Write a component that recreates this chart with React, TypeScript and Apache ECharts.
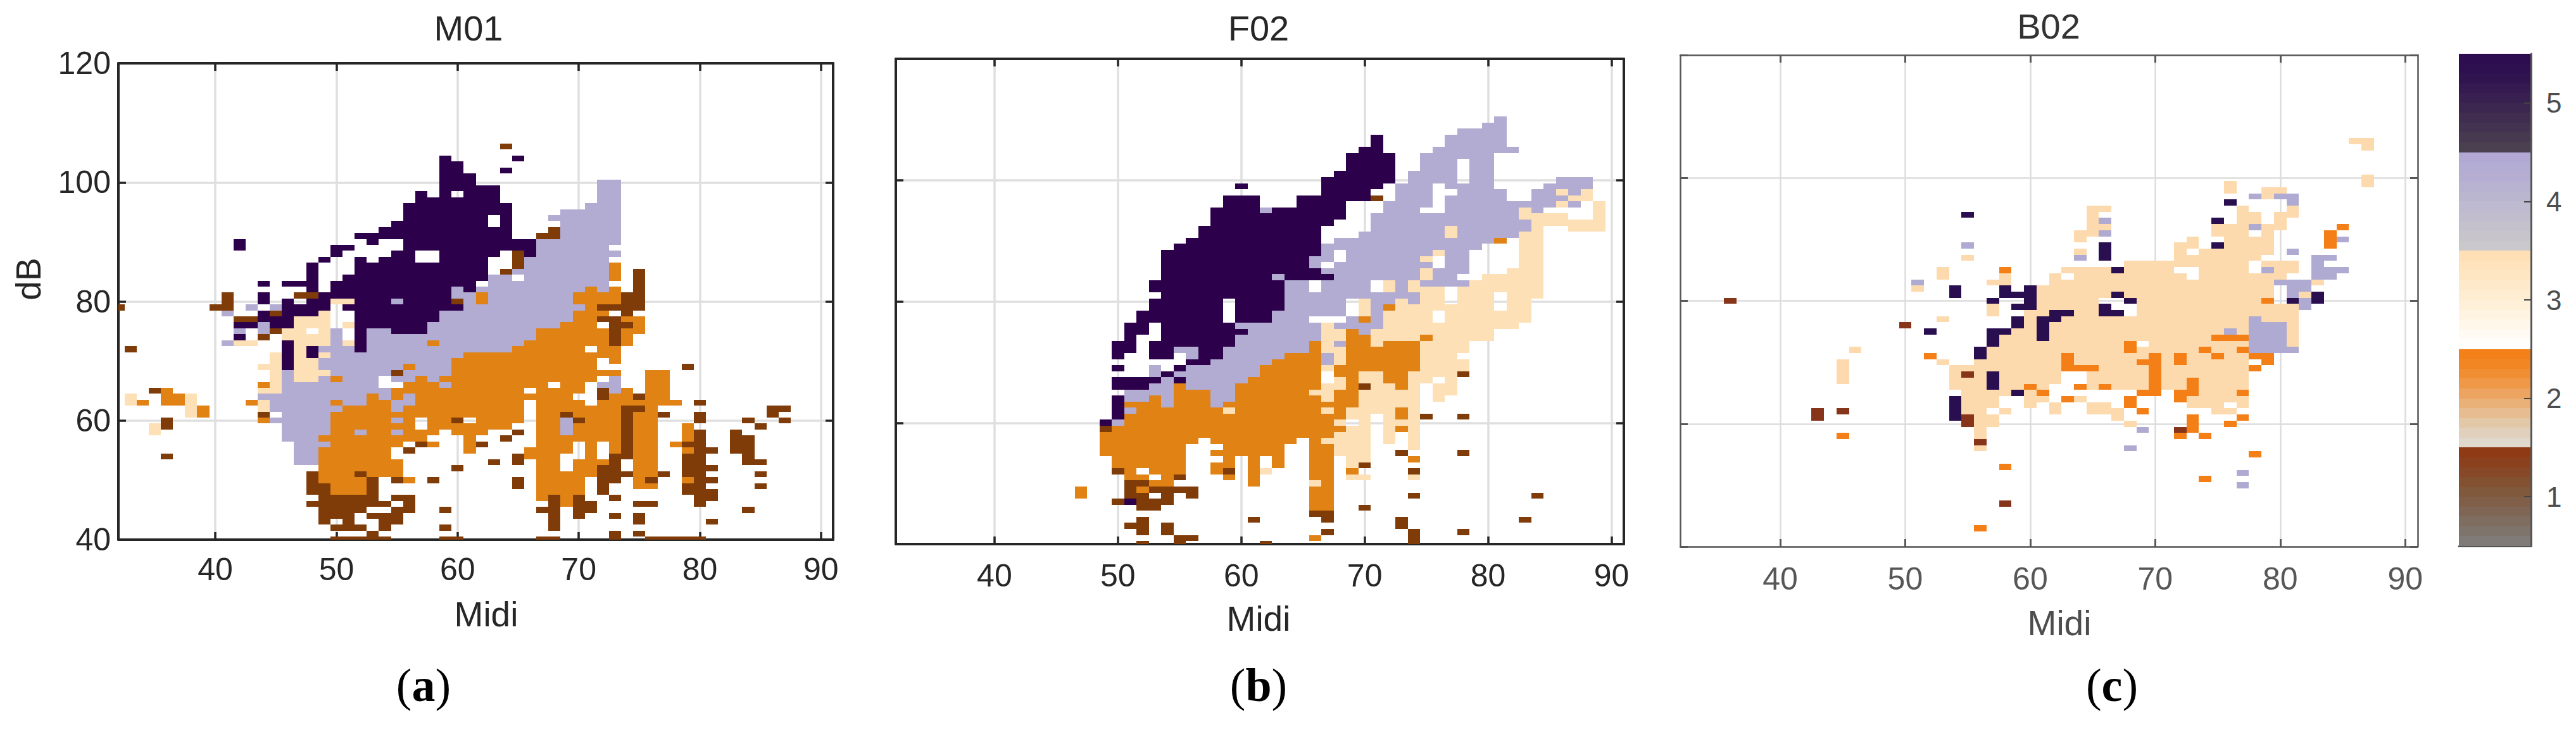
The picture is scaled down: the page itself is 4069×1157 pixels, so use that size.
import React, { useEffect, useRef } from "react";
import * as echarts from "echarts";

// Each row: "dB level:midiFrom-midiTo ..." (levels 1..5)
const m01Rows: string[] = [
  "106 1:64",
  "104 5:59 5:65",
  "103 5:59-60",
  "102 5:59-60 5:64",
  "101 5:59-61",
  "100 5:59-61 4:72-73",
  "99 5:59-63 4:72-73",
  "98 5:57 5:59 5:61-63 4:72-73",
  "97 5:57-63 4:72-73",
  "96 5:56-64 4:71-73",
  "95 5:56-64 4:69-73",
  "94 5:56-62 5:64 4:68-73",
  "93 5:55-62 5:64 4:69-73",
  "92 5:54-64 1:68 4:69-73",
  "91 5:52-64 1:67-68 4:69-73",
  "90 5:42 5:53 5:56-66 4:67-73",
  "89 5:42 5:50-51 5:56-66 4:67-72",
  "88 5:50 5:55-56 5:59-63 1:65 5:66 4:67-73",
  "87 5:49 5:52 5:54-56 5:59-62 1:65 4:66-72",
  "86 5:48 5:52-62 1:65 4:66-72 2:73",
  "85 5:48 5:52-62 1:64 4:65-72 2:73 1:75",
  "84 5:48 5:51-62 4:63-64 4:66-72 2:73 1:75",
  "83 5:44 5:46-48 5:50-61 4:63-72 1:75",
  "82 5:48 5:50-59 4:60 5:61 4:62-70 2:71 4:72 2:73 1:75",
  "81 1:41 5:44 1:47-48 5:49-59 4:60-61 2:62 4:63-69 2:70-73 1:74-75",
  "80 1:41 5:44 5:46 5:48-49 3:50-51 5:52-54 4:55 5:56-59 1:60 4:61 2:62 4:63-69 2:70-73 1:74-75",
  "79 1:32 1:40-41 4:43 4:45 5:46-49 5:51-60 4:61-70 2:71 1:72-75",
  "78 4:41 5:44 1:45 5:46-48 3:49 5:52-58 4:59-69 2:70-72 1:74",
  "77 1:42-43 5:44-46 3:47-49 5:52-58 4:59-69 2:70-71 1:72-73 2:74-75",
  "76 5:42-43 4:44 5:45-46 3:47-49 3:51 5:52-57 4:58-68 2:69-71 1:73-74 2:75",
  "75 4:42 4:44 1:45 3:46-47 3:49 4:50 5:52 4:53-54 5:55-57 4:58-66 2:67-72 1:73 2:74-75",
  "74 5:42 1:44 3:46-49 4:50 5:52 4:53-66 2:67-72 1:73 2:74",
  "73 4:41 3:42-43 5:46 3:47-49 4:50 3:51 5:52 4:53-57 2:58 4:59-65 2:66-72 1:73 2:74",
  "72 1:33 5:46 3:47 5:48 4:49-51 5:52 4:53-64 2:65-70 2:72-73",
  "71 3:45 5:46 3:47 5:48 3:49 4:50-60 2:61-73",
  "70 3:45 5:46 3:47-48 4:49-59 2:60-71 2:73",
  "69 3:44-45 5:46 3:47-48 4:49-55 2:56 4:57-59 2:60-71 1:79",
  "68 3:45 4:46 3:47-49 4:50-54 1:55 4:56-59 2:60-73 2:76-77",
  "67 3:45 4:46 3:47-48 4:49 2:50 4:51-53 4:55-56 2:57 4:58 2:59-71 4:73 2:76-77",
  "66 2:44 3:45 4:46-53 2:56-58 4:59 2:60-67 2:69-70 4:72-73 2:76-77",
  "65 1:35 2:36 3:44-45 4:46-54 2:55-65 2:67-70 1:72 4:73 2:74 2:76-77",
  "64 3:33 2:36-37 3:38 4:44-52 2:53 4:54 2:55 4:56 2:57-69 1:72 2:73-74 1:75 2:76-77",
  "63 3:33 2:34 2:36-37 3:38 2:43 3:44 4:45-49 2:50 4:51-52 2:53-54 4:55-56 2:57-65 2:67-70 2:72-78 1:80",
  "62 3:38 2:39 3:44 4:45-50 2:51-54 4:55 2:56-65 2:67-73 1:74-75 2:76 1:86-87",
  "61 3:38 2:39 1:44 4:46-49 2:50-65 2:67-68 1:69 2:70-73 1:74 2:75-76 1:77 1:80 1:86",
  "60 1:36 2:44 4:45-49 2:50-54 4:55 2:56 2:58-59 1:60 2:62-65 2:67-68 4:69 1:70 2:71-73 1:74 2:75-76 1:80 1:84 1:87",
  "59 3:35 1:36 4:46-49 2:50-56 2:58-64 2:67-68 4:69 2:70-73 1:74 2:75-76 2:79 1:85",
  "58 3:35 4:46-49 2:50-51 4:52 2:53-54 4:55 2:56-58 2:60-62 1:65 2:67-68 4:69 2:70-73 1:74 2:75-76 2:79 1:80 1:83",
  "57 4:46-48 2:49-57 2:61 1:64 2:67-73 1:74 2:75-76 2:79 1:80 1:83-84",
  "56 4:47-49 2:50-55 1:57 2:58 2:61 1:62 2:67-69 2:71 2:73 1:74 2:75-76 2:78 1:79-80 1:83-84",
  "55 4:47-48 2:49-54 1:56 2:61 2:66-69 2:71 2:73 1:74 2:75-76 2:79 1:80-81 1:83-84",
  "54 1:36 4:47-48 2:49-54 1:65 2:66-68 2:71 1:73-74 2:75-76 1:79-80 1:84",
  "53 4:47-48 2:49-55 1:63 1:65 2:67-68 2:70-72 1:73 2:75-76 1:79-80 1:84-85",
  "52 2:49-55 1:60 2:67-68 2:70-71 1:72-73 2:75-76 1:79-81",
  "51 1:48 2:49-51 1:52 2:53-55 2:67-71 1:72-74 2:75-76 1:77 1:79-80 1:85",
  "50 1:48 2:49-52 1:53 1:55 2:56 1:58 1:65 2:67-70 1:72-73 2:75 1:76 2:79 1:80-81",
  "49 1:48-49 2:50-52 1:53 1:65 2:67-70 1:72 2:75-76 1:79-80 1:85",
  "48 1:48-49 2:50-52 1:53 2:67-70 1:72 1:79-81",
  "47 1:49-53 1:55-56 2:67 1:68 2:69 1:70 1:73 1:80-81",
  "46 1:48-54 1:56 1:68 2:69 1:70-71 1:75-76 1:80",
  "45 1:49-52 1:55-56 1:59 1:67-68 1:70-71 1:84",
  "44 1:49-51 1:53-55 1:68 1:70 1:73 1:75",
  "43 1:49 1:51 1:54-55 1:68 1:75 1:81",
  "42 1:50-52 1:54 1:59 1:68",
  "41 1:53 1:73 1:75",
  "40 1:50-54 1:59-60 1:67-68 1:73 1:76-80",
];

const f02Rows: string[] = [
  "110 4:81",
  "109 4:80-81",
  "108 4:78-81",
  "107 5:71 4:77-81",
  "106 5:71 4:77-81",
  "105 5:70-71 4:76-82",
  "104 5:69-72 4:75-80",
  "103 5:69-72 4:75-77 4:79-80",
  "102 5:69-72 4:75-77 4:79-80",
  "101 5:68-72 4:74-77 4:79-80",
  "100 5:67-72 4:74-77 4:79-80 4:86-88",
  "99 5:60 5:67-71 4:73-75 4:77-80 4:85-88",
  "98 5:67-70 4:73-75 4:78-81 4:84-85 3:86 4:87 3:88",
  "97 5:59-61 5:65-70 1:71 4:73-75 4:77-81 4:84-86 3:87-88",
  "96 5:59-61 5:65-68 4:72-75 4:77-85 3:86 4:87 3:89",
  "95 5:58-61 4:62 5:63-68 4:72-74 4:77-82 3:83 4:84 3:89",
  "94 5:58-68 4:71-82 3:83-86 3:89",
  "93 5:58-67 4:71-83 3:84-89",
  "92 5:57-66 4:71-76 3:77 4:78-83 3:84 3:87-89",
  "91 5:57-66 4:70-76 3:77 4:78-82 3:83-84",
  "90 5:56-66 4:68-80 2:81 3:83-84",
  "89 5:55-66 4:67-79 3:83-84",
  "88 5:54-66 4:67 4:69-75 3:76 4:77-78 3:83-84",
  "87 5:54-65 4:66-67 4:69-74 3:75 4:77-78 3:83-84",
  "86 5:54-65 4:66 4:68-75 4:77-78 3:83-84",
  "85 5:54-66 4:67-74 3:75 4:76-78 3:82-84",
  "84 5:54-62 4:63 5:64-67 4:68-74 3:75 4:76-77 3:80-84",
  "83 5:53-63 4:64-65 4:67-70 3:72 4:73 3:74 4:75-78 3:79-84",
  "82 5:53-63 4:64-65 4:67-70 3:72 4:73 3:74-76 3:78-84",
  "81 5:54-63 4:64-74 3:75-76 3:78-80 3:82-84",
  "80 5:53-58 5:60-63 4:64-68 3:70 4:71-72 3:73 4:74 3:75-76 3:78-80 3:82-83",
  "79 5:53-58 5:60-63 4:64-68 3:70 4:71 2:72 3:73-80 3:82-83",
  "78 5:52-58 5:60-62 4:63-68 3:70 4:71 3:72-75 3:77-83",
  "77 5:52-58 5:60-62 4:63-65 4:69 2:70 4:71 3:72-75 3:77-83",
  "76 5:51-52 5:54-59 4:60-66 3:67 4:68-71 3:72-82",
  "75 5:51-52 5:54-60 4:61-66 3:67-68 2:69 4:70 3:71-80",
  "74 5:51 5:54-59 4:60-66 3:67-68 2:69-70 3:71-74 2:75 3:76-80",
  "73 5:50-51 5:53-59 4:60-65 2:66 3:67 4:68 2:69-70 3:71 2:72-74 3:75-78",
  "72 5:50-51 5:53-54 4:55-56 5:57-58 4:59-65 2:66 3:67-68 2:69-74 3:75-78",
  "71 5:50 5:53-54 4:56 5:57-58 4:59-63 2:64-66 4:67 3:68 2:69-74 3:75-77",
  "70 5:56-57 4:58-62 2:63-66 4:67 3:68 2:69-74 3:75-78",
  "69 5:50 4:53 5:55 4:56-61 2:62-66 3:67 2:68-74 3:75-78",
  "68 4:53 5:54 4:55-61 2:62-66 2:68-69 3:70-71 2:72-73 3:74-77 1:78",
  "67 5:50-53 4:54 5:55 4:56-60 2:61-66 3:68 2:69 3:70-71 2:72-73 3:74-75 3:77",
  "66 5:50-52 4:53-54 2:55 4:56-59 2:60-66 3:67-68 2:69 1:70 3:71-72 2:73 3:74 3:76-77",
  "65 4:51-54 2:55-57 4:58-59 2:60-65 3:66-67 2:68-69 3:70-74 3:76-77",
  "64 5:50 4:51-52 2:53 4:54 2:55-57 4:58-59 2:60-66 3:67 2:68-69 3:70-74 3:76",
  "63 5:50 2:51-53 4:54 2:55-57 4:58 2:59-69 3:70-74",
  "62 5:50 4:51 2:52-58 3:59 2:60-66 3:67 2:68 3:69-72 2:73 3:74",
  "61 5:50 2:51-68 3:69-70 3:72 2:73 3:74 1:75 1:78",
  "60 5:49 4:50 2:51-67 3:68 3:70 3:72-74",
  "59 1:49 2:50-68 3:69-70 3:72 2:73 3:74",
  "58 2:49-67 3:68-70 3:72 3:74",
  "57 2:49-56 2:58-64 2:66 3:67-70 3:72 3:74",
  "56 2:49-55 2:59-63 2:66-67 3:68-70 3:74",
  "55 2:49-55 2:58-63 2:66-67 3:68-70 1:73 1:78",
  "54 2:50-55 2:59 2:61 2:63 2:66-67 3:69-70 2:74",
  "53 2:50-55 2:58-59 2:61 2:63 2:66-67 3:69 1:70",
  "52 1:50 2:51 2:53-55 2:58 1:59 2:61 3:62 2:66-67 2:69 1:74",
  "51 2:51-52 2:54 1:55 2:59 2:61 2:66-67 3:69-70 3:74",
  "50 1:51-52 2:53-54 2:61 3:66 2:67",
  "49 2:47 1:51 2:52 1:53-56 2:66-67",
  "48 2:47 1:51-52 1:54 1:56 2:66-67 1:74 1:84",
  "47 1:50 5:51 1:52-54 2:66-67",
  "46 1:52-53 2:66-67 1:70",
  "45 1:66-67",
  "44 1:52 1:61 1:67 1:73 1:83",
  "43 1:51-52 1:54 1:73",
  "42 1:52 1:54 1:67 1:74 1:78",
  "41 1:55-56 2:66 1:74",
  "40 1:52 1:55 1:62 1:74",
];

const b02Rows: string[] = [
  "106 3:86-87",
  "105 3:87",
  "100 3:87",
  "99 3:76 3:87",
  "98 3:76 3:79-80",
  "97 4:78 3:79 4:80-81",
  "96 5:76 4:81",
  "95 3:65-66 3:77 3:81",
  "94 5:55 3:65 3:77-78 3:80-81",
  "93 3:65 4:66 5:75 3:77-78 3:80",
  "92 3:65-66 3:75-77 4:78 3:79-80 2:85",
  "91 3:64-65 4:66 3:75-77 3:79 2:84",
  "90 3:64 3:73 3:76-79 2:84 4:85",
  "89 4:55 5:66 3:72-73 5:75 3:76-79 2:84",
  "88 3:64 5:66 3:72 3:74-79 4:81",
  "87 3:55 4:64 5:66 3:72-78 4:83-84",
  "86 3:68-77 3:79-81 4:83",
  "85 3:53 2:58 3:63-66 5:67 3:68-71 3:74-77 4:79 3:80-81 4:83-85",
  "84 3:53 3:58 3:62 3:64-72 3:74-80 4:83-84",
  "83 4:51 3:57-58 3:62-79 4:80-82 3:83",
  "82 3:51 5:54 5:58 5:60 3:61-79 4:81-82",
  "81 5:54 5:58-60 3:61-66 5:67 3:68-79 4:81 3:82 5:83",
  "80 1:36 5:57 5:60 3:61-65 5:68 3:69-78 2:79 5:81 4:82 5:83",
  "79 3:57 5:59-60 3:61-65 5:66 3:69-81 4:82",
  "78 3:57 3:60-61 5:62-63 3:64-65 5:66-67 3:69-81",
  "77 3:53 5:59 3:60 5:61-62 3:63-77 4:78 3:79-81",
  "76 1:50 5:59 3:60 5:61 3:62-77 4:78-80 3:81",
  "75 5:52 5:57-58 3:59-60 5:61 3:62-75 4:76 3:77 4:78-80 3:81",
  "74 5:57 3:58-60 5:61 3:62-74 2:75-77 4:78-80 3:81",
  "73 5:57 3:58-67 2:68 3:70-77 4:78-80 3:81",
  "72 3:46 5:56 3:57-67 2:68 3:69-73 2:74 3:75-76 2:77 4:78-81",
  "71 2:52 5:56 3:57-62 2:63 3:64-69 2:70 3:71 2:72 3:73-74 2:75 3:76-77 2:78-79",
  "70 3:45 3:53 3:56-62 2:63 3:64-68 2:69-70 3:71 2:72 3:73-77 2:79",
  "69 3:45 3:54-62 2:63-65 3:66-69 2:70 3:71-77 2:78",
  "68 3:45 3:54 1:55 3:56 5:57 3:58-62 3:65-69 2:70 3:71-77",
  "67 3:45 3:54-56 5:57 3:58-62 3:65-69 2:70 3:71-72 2:73 3:74-77",
  "66 3:54-56 5:57 3:58-59 2:60 3:61 2:64 3:65 2:66 3:67-69 2:70 3:71-72 2:73 3:74-77",
  "65 3:55-58 5:59 3:60 2:61 2:69-70 2:72-73 3:74-76 2:77",
  "64 5:54 3:55-57 3:60-61 2:63 3:64 2:68 2:72 3:73-77",
  "63 5:54 3:55-57 3:60 3:62 3:65-66 2:68 3:73-75 3:77",
  "62 1:43 1:45 5:54 3:55-56 3:58 3:62 3:65-67 2:69 3:75-76",
  "61 1:43 5:54 1:55 3:56-57 3:67 2:73 2:77",
  "60 1:55 3:56-57 3:68 2:73 2:76",
  "59 3:56 4:69 1:72 2:73",
  "58 2:45 3:56 2:72 2:74",
  "57 1:56",
  "56 3:56 4:68",
  "55 2:78",
  "53 2:58",
  "52 4:77",
  "51 2:74",
  "50 4:77",
  "47 1:58",
  "43 2:56",
];

const midiTicks = [40, 50, 60, 70, 80, 90];
const colorbarTicks = [1, 2, 3, 4, 5];
const paletteAB = ["", "#7f3b08", "#e08214", "#fee0b6", "#b2abd2", "#2d004b"];
const paletteC = ["", "#86351a", "#f47f17", "#fddaae", "#aeaad2", "#2a0f50"];
// colour bar, bottom to top: ten steps for each of the five levels
const colorbarColors = [
  "#807b78", "#7f746c", "#7f6d60", "#7f6654", "#7f5f48", "#80583c", "#835032", "#874828", "#8b411e", "#8f3a14",
  "#e0d8cc", "#e0d0bc", "#e3c8a8", "#e6bc90", "#e9b078", "#eca460", "#ee9848", "#f08e34", "#f28622", "#f38018",
  "#fffefc", "#fffaf3", "#fff7ea", "#fff4e2", "#fff0da", "#ffedd2", "#feeaca", "#fee6c2", "#fee3bc", "#fedfb6",
  "#cac8ca", "#c7c4cb", "#c4c0cc", "#c1bdce", "#bebacf", "#bbb6d0", "#b8b2d1", "#b5aed2", "#b3acd3", "#b1a9d3",
  "#4b4050", "#473a50", "#443350", "#402d50", "#3c2750", "#382050", "#341a50", "#301450", "#2e1050", "#2d0d50",
];
const colorbarLevels = [
  0.55, 0.65, 0.75, 0.85, 0.95, 1.05, 1.15, 1.25, 1.35, 1.45,
  1.55, 1.65, 1.75, 1.85, 1.95, 2.05, 2.15, 2.25, 2.35, 2.45,
  2.55, 2.65, 2.75, 2.85, 2.95, 3.05, 3.15, 3.25, 3.35, 3.45,
  3.55, 3.65, 3.75, 3.85, 3.95, 4.05, 4.15, 4.25, 4.35, 4.45,
  4.55, 4.65, 4.75, 4.85, 4.95, 5.05, 5.15, 5.25, 5.35, 5.45,
];

function expand(rows: string[]): number[][] {
  const out: number[][] = [];
  rows.forEach((r) => {
    const [d, ...toks] = r.split(" ");
    toks.forEach((t) => {
      const [lv, range] = t.split(":");
      const [a, b = a] = range.split("-");
      for (let m = +a; m <= +b; m++) out.push([m, +d, +lv]);
    });
  });
  return out;
}

const cellSeries = (i: number, rows: string[], palette: string[]) => ({
  type: "custom",
  xAxisIndex: i * 2,
  yAxisIndex: i * 2,
  clip: true,
  silent: true,
  z: 3,
  encode: { x: 0, y: 1 },
  data: expand(rows),
  renderItem: (_: any, api: any) => {
    const m = api.value(0);
    const d = api.value(1);
    const p0 = api.coord([m - 0.5, d + 0.5]);
    const p1 = api.coord([m + 0.5, d - 0.5]);
    const x = Math.round(p0[0]);
    const y = Math.round(p0[1]);
    return {
      type: "rect",
      shape: { x, y, width: Math.round(p1[0]) - x, height: Math.round(p1[1]) - y },
      style: { fill: palette[api.value(2)], stroke: "none" },
    };
  },
});

function panelAxes(i: number, ink: string, lineW: number, tickW: number, gridC: string, gridW: number, labelMargin: number, yLabels: boolean) {
  const line = { show: true, onZero: false, lineStyle: { color: ink, width: lineW } };
  const tick = { show: true, inside: true, length: 12, lineStyle: { color: ink, width: tickW } };
  const font = { fontFamily: "Liberation Sans", fontSize: 50, color: ink };
  const split = { show: true, lineStyle: { color: gridC, width: gridW } };
  const x = {
    type: "value", gridIndex: i, min: 32, max: 91, axisLine: line,
    axisTick: { ...tick, customValues: midiTicks },
  };
  const y = { type: "value", gridIndex: i, min: 40, max: 120, interval: 20, axisLine: line, axisTick: tick };
  return {
    xAxis: [
      { ...x, position: "bottom", splitLine: split, axisLabel: { ...font, margin: labelMargin, customValues: midiTicks } },
      { ...x, position: "top", splitLine: { show: false }, axisLabel: { show: false } },
    ],
    yAxis: [
      { ...y, position: "left", splitLine: split, axisLabel: yLabels ? { ...font, margin: 12 } : { show: false } },
      { ...y, position: "right", splitLine: { show: false }, axisLabel: { show: false } },
    ],
  };
}

const label = (text: string, x: number, y: number, size: number, fill: string, rotation = 0) => ({
  type: "text",
  x,
  y,
  rotation,
  style: { text, x: 0, y: 0, fill, font: `${size}px "Liberation Sans"`, textAlign: "center", textVerticalAlign: "middle" },
});

const panelTag = (letter: string, x: number, y: number) => ({
  type: "text",
  x,
  y,
  style: {
    text: `{p|(}{b|${letter}}{p|)}`,
    fill: "#000",
    textAlign: "center",
    textVerticalAlign: "middle",
    rich: {
      p: { fontFamily: "Liberation Serif", fontSize: 74, fill: "#000" },
      b: { fontFamily: "Liberation Serif", fontSize: 74, fontWeight: "bold", fill: "#000" },
    },
  },
});

export default function App() {
  const ref = useRef<HTMLDivElement>(null);
  useEffect(() => {
    const chart = echarts.init(ref.current!, undefined, { renderer: "svg", width: 4069, height: 1157 });
    const a = panelAxes(0, "#262626", 4, 3.5, "#dfdfdf", 3.5, 22, true);
    const b = panelAxes(1, "#262626", 4, 3.5, "#dfdfdf", 3.5, 25, false);
    const c = panelAxes(2, "#575757", 2.5, 3, "#dcdcdc", 2.5, 26, false);
    chart.setOption({
      animation: false,
      backgroundColor: "#fff",
      grid: [
        { left: 187, top: 100, width: 1129, height: 753 },
        { left: 1415, top: 93, width: 1150, height: 767 },
        { left: 2654, top: 87, width: 1165, height: 777 },
        { left: 3884, top: 85, width: 114, height: 778 },
      ],
      xAxis: [
        ...a.xAxis, ...b.xAxis, ...c.xAxis,
        { type: "value", gridIndex: 3, min: 0, max: 1, axisLine: { show: true, onZero: false, lineStyle: { color: "#555", width: 3 } }, axisTick: { show: false }, axisLabel: { show: false }, splitLine: { show: false } },
      ],
      yAxis: [
        ...a.yAxis, ...b.yAxis, ...c.yAxis,
        {
          type: "value", gridIndex: 3, position: "right", min: 0.5, max: 5.5,
          axisLine: { show: true, onZero: false, lineStyle: { color: "#555", width: 3 } },
          axisTick: { show: true, inside: true, length: 11, customValues: colorbarTicks, lineStyle: { color: "#444", width: 2 } },
          axisLabel: { customValues: colorbarTicks, fontFamily: "Liberation Sans", fontSize: 44, color: "#4d4d4d", margin: 24 },
          splitLine: { show: false },
          z: 10,
        },
      ],
      series: [
        cellSeries(0, m01Rows, paletteAB),
        cellSeries(1, f02Rows, paletteAB),
        cellSeries(2, b02Rows, paletteC),
        {
          type: "custom",
          xAxisIndex: 6,
          yAxisIndex: 6,
          silent: true,
          z: 1,
          encode: { y: 0 },
          data: colorbarLevels.map((v) => [v]),
          renderItem: (params: any, api: any) => {
            const v = api.value(0);
            const p0 = api.coord([0, v + 0.05]);
            const p1 = api.coord([1, v - 0.05]);
            const y = Math.round(p0[1]);
            return {
              type: "rect",
              shape: { x: p0[0], y, width: p1[0] - p0[0], height: Math.round(p1[1]) - y },
              style: { fill: colorbarColors[params.dataIndex], stroke: "none" },
            };
          },
        },
      ],
      graphic: [
        label("M01", 740, 44, 56, "#262626"),
        label("F02", 1988, 44, 56, "#262626"),
        label("B02", 3236, 41, 56, "#333"),
        label("Midi", 768, 971, 55, "#262626"),
        label("Midi", 1988, 978, 55, "#262626"),
        label("Midi", 3253, 985, 55, "#4d4d4d"),
        label("dB", 45, 441, 55, "#262626", Math.PI / 2),
        panelTag("a", 669, 1083),
        panelTag("b", 1988, 1083),
        panelTag("c", 3336, 1083),
      ],
    });
    return () => chart.dispose();
  }, []);
  return <div ref={ref} style={{ position: "fixed", left: 0, top: 0, width: 4069, height: 1157, background: "#fff" }} />;
}
